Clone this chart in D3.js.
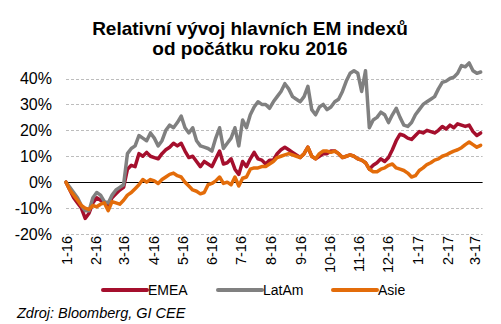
<!DOCTYPE html>
<html>
<head>
<meta charset="utf-8">
<script src="https://cdn.jsdelivr.net/npm/d3@7/dist/d3.min.js"></script>
<style>
  html, body { margin: 0; padding: 0; background: #fff; }
  svg { display: block; font-family: "Liberation Sans", Arial, sans-serif; }
</style>
</head>
<body>
<svg id="chart" width="501" height="324"></svg>
<script>
// ---- data ----
const titleLines = ["Relativní vývoj hlavních EM indexů", "od počátku roku 2016"];
const sourceText = "Zdroj: Bloomberg, GI CEE";
const seriesNames = ["EMEA", "LatAm", "Asie"];
const startDate = "2016-01-01";
const stepDays = 4;
const endDate = "2017-03-10";
const yTicks = [-20, -10, 0, 10, 20, 30, 40];
const xTickLabels = ["1-16","2-16","3-16","4-16","5-16","6-16","7-16","8-16","9-16","10-16","11-16","12-16","1-17","2-17","3-17"];

const emea = [0,-3,-6,-8,-10,-14,-12,-8,-6,-7,-8,-9,-6,-4.5,-3,-2,5,6.5,6,11,10,11.5,10,9.5,9,11,12.5,13.5,15,14,15,12,9.5,10,8,6,8,7,6,9,12,7,7.5,9,5,3,8,6,9,11.5,9,8.5,7,8.5,8.5,11,12.5,13.5,12.5,11.5,10.5,9.5,11,13.5,10,9,10,11,11,12,12,11,9.5,10,10.5,10,9,8.5,7.5,5,6.5,7.5,9,8,9.5,12.5,16,18.5,18,17,16.5,18,19.5,19,20,19.5,19,20,21.5,20.5,22,21,22.5,22,21.5,22,19.5,18,19];
const latam = [0,-2,-4,-6,-9,-11,-11,-6,-4,-5,-7.5,-8,-5,-3,-2,-1,11,13,14,18,17,16,19,17,14,16,20,22,21,23,25.5,21,19,21,16,14,13.5,13,12,17,21,13,15,17,21,14,24,21,26,29,31,30,30,28.5,31,33,35,38,36,33,32,31,33,37,28,26,29,30,28,29,31,32,35,39,42,43,42,35,43,21,24,25,27,26,23,26,28.5,25,22,21.5,23,26,28,30,31,32,33,36,38.5,39,40,40.5,42,45,44.5,46,43,42,42.5];
const asie = [0,-3,-5,-7,-9,-10,-10.5,-9,-9.5,-8.5,-8,-11,-7.5,-8,-8.5,-7,-5,-4,-2.5,-1,1,0,1,0.5,-0.5,1,2,3,3.5,2.5,2,0,-1.5,-3,-3.5,-4.5,-4,-1,-0.5,0.5,2,-0.5,0,-1,2,-1.5,1.5,2,5,5.5,5.5,6,6,7,8,9.5,10,10.5,11,10.5,10,9.5,11,13.5,10,9,11,12,12,11.5,12,11,9.5,10,10.5,10,9,8.5,7.5,5,4,4,5,5.5,6.5,7,5.5,5,4.5,3.5,2,2.5,4.5,5.5,6.8,7.5,8.5,9,10,10.5,11.3,12,12.5,13.3,14.5,15.5,14.5,13.5,14.2];
const colors = ["#A50F2D", "#808080", "#E36C0A"];

// ---- chart ----
const svg = d3.select("#chart");
svg.append("rect").attr("width", 501).attr("height", 324).attr("fill", "#fff");

const parse = d3.timeParse("%Y-%m-%d");
const t0 = parse(startDate);
const dates = emea.map((_, i) => d3.timeDay.offset(t0, i * stepDays));

const x = d3.scaleTime().domain([t0, parse(endDate)]).range([66, 482.6]);
const y = d3.scaleLinear().domain([-20, 40]).range([234, 78.5]);

// title
svg.append("g").selectAll("text").data(titleLines).join("text")
  .attr("x", 250).attr("y", (d, i) => 35 + i * 20)
  .attr("text-anchor", "middle")
  .attr("font-size", 19).attr("font-weight", "bold").attr("fill", "#000")
  .text(d => d);

// gridlines
const grid = svg.append("g");
grid.selectAll("line").data(yTicks.filter(v => v !== 0)).join("line")
  .attr("x1", x.range()[0]).attr("x2", x.range()[1])
  .attr("y1", d => Math.round(y(d)) + 0.5).attr("y2", d => Math.round(y(d)) + 0.5)
  .attr("stroke", "#bdbdbd").attr("stroke-width", 1).attr("stroke-dasharray", "3,2");

// y labels
const yAxis = d3.axisLeft(y).tickValues(yTicks).tickSize(0).tickPadding(0)
  .tickFormat(d => d + "%");
const gy = svg.append("g").attr("transform", "translate(52,0)").call(yAxis);
gy.select(".domain").remove();
gy.selectAll("text").attr("font-size", 16).attr("font-family", "Liberation Sans, Arial, sans-serif").attr("fill", "#000");

// zero line
svg.append("line")
  .attr("x1", x.range()[0]).attr("x2", x.range()[1])
  .attr("y1", Math.round(y(0)) + 0.5).attr("y2", Math.round(y(0)) + 0.5)
  .attr("stroke", "#000").attr("stroke-width", 1);

// x labels
const monthTicks = xTickLabels.map((_, i) => d3.timeMonth.offset(t0, i));
const xAxis = d3.axisBottom(x).tickValues(monthTicks).tickSize(0).tickPadding(0)
  .tickFormat((d, i) => xTickLabels[i]);
const gx = svg.append("g").attr("transform", "translate(0,236)").call(xAxis);
gx.select(".domain").remove();
gx.selectAll("text")
  .attr("font-size", 14.5).attr("font-family", "Liberation Sans, Arial, sans-serif").attr("fill", "#000")
  .attr("text-anchor", "end")
  .attr("transform", "rotate(-90)")
  .attr("x", 0).attr("y", 0).attr("dy", "0.35em");

// series
const seriesData = [emea, latam, asie];
const line = d3.line().x((d, i) => x(dates[i])).y(d => y(d)).curve(d3.curveLinear);
svg.append("g").selectAll("path").data(seriesData).join("path")
  .attr("d", d => line(d))
  .attr("fill", "none")
  .attr("stroke", (d, i) => colors[i])
  .attr("stroke-width", 3.5)
  .attr("stroke-linejoin", "round")
  .attr("stroke-linecap", "round");

// legend
const legendX = [103, 218, 333];
const lg = svg.append("g").selectAll("g").data(seriesNames).join("g")
  .attr("transform", (d, i) => `translate(${legendX[i]},290)`);
lg.append("line").attr("x1", 0).attr("x2", 44).attr("y1", 0).attr("y2", 0)
  .attr("stroke", (d, i) => colors[i]).attr("stroke-width", 4).attr("stroke-linecap", "round");
lg.append("text").attr("x", 45).attr("y", 5)
  .attr("font-size", 14).attr("fill", "#000").text(d => d);

// source
svg.append("text").attr("x", 17).attr("y", 318)
  .attr("font-size", 14.5).attr("font-style", "italic").attr("fill", "#000")
  .text(sourceText);
</script>
</body>
</html>
